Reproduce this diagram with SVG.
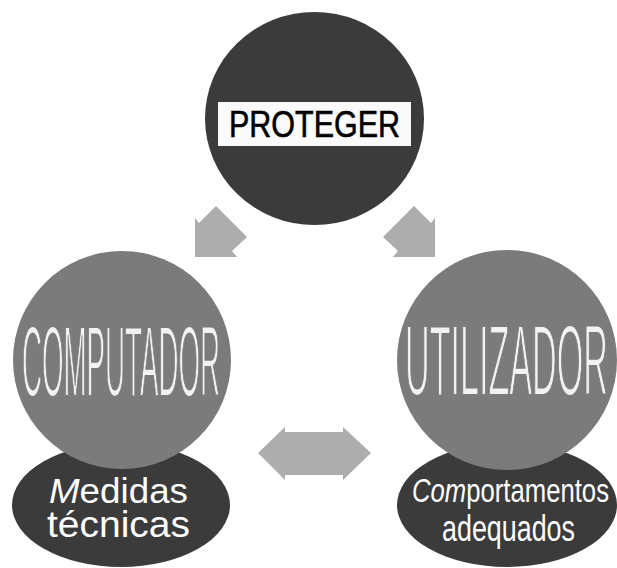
<svg xmlns="http://www.w3.org/2000/svg" width="617" height="568" viewBox="0 0 617 568">
<style>
.dark{fill:#3b3b3b}
.ball{fill:#7b7b7b}
.arr{fill:#adadad}
.big{font-family:"Liberation Sans",Arial,sans-serif;fill:#f2f2f2;stroke:#7b7b7b;stroke-width:2.2}
.sub{font-family:"Liberation Sans",Arial,sans-serif;fill:#ffffff}
</style>
<rect width="617" height="568" fill="#ffffff"/>
<g id="connectors">
<polygon class="arr" points="199,223 216,206 247,237 232,251 237,257 195,257 195,218"/>
<polygon class="arr" points="431,223 414,206 383,237 398,251 393,257 435,257 435,218"/>
<polygon class="arr" points="258,453 285,427 285,432 343,432 343,427 371,453 343,480 343,475 285,475 285,480"/>
</g>
<g id="proteger">
<ellipse class="dark" cx="314.5" cy="118.5" rx="109.5" ry="106.5"/>
<rect x="218" y="102" width="193" height="44" fill="#fafafa"/>
<text x="229" y="137" font-size="36" textLength="171" lengthAdjust="spacingAndGlyphs" font-family="Liberation Sans, Arial, sans-serif" fill="#000" stroke="#000" stroke-width="0.6">PROTEGER</text>
</g>
<g id="medidas">
<ellipse class="dark" cx="121" cy="505" rx="109" ry="62"/>
</g>
<g id="comportamentos">
<ellipse class="dark" cx="507" cy="505" rx="110" ry="62"/>
</g>
<g id="computador">
<circle class="ball" cx="122" cy="360" r="109"/>
<text class="big" x="22" y="396" font-size="100" textLength="198" lengthAdjust="spacingAndGlyphs">COMPUTADOR</text>
</g>
<g id="utilizador">
<circle class="ball" cx="507" cy="360" r="110"/>
<text class="big" x="405" y="395" font-size="100" textLength="203" lengthAdjust="spacingAndGlyphs">UTILIZADOR</text>
</g>
<g id="medidas-text">
<text class="sub" x="49" y="503" font-size="35" textLength="139" lengthAdjust="spacingAndGlyphs"><tspan font-style="italic">M</tspan>edidas</text>
<text class="sub" x="47" y="537" font-size="37" textLength="143" lengthAdjust="spacingAndGlyphs">técnicas</text>
</g>
<g id="comportamentos-text">
<text class="sub" x="412" y="502" font-size="33" textLength="197" lengthAdjust="spacingAndGlyphs"><tspan font-style="italic">Com</tspan>portamentos</text>
<text class="sub" x="442" y="541" font-size="36" textLength="133" lengthAdjust="spacingAndGlyphs">adequados</text>
</g>
</svg>
